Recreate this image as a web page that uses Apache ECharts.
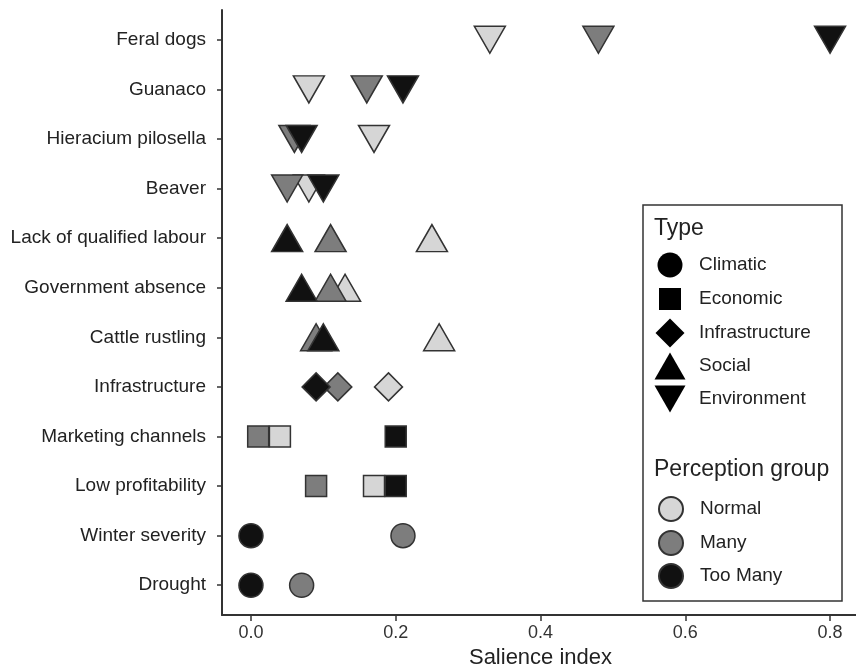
<!DOCTYPE html>
<html>
<head>
<meta charset="utf-8">
<script src="https://cdn.jsdelivr.net/npm/echarts@6/dist/echarts.min.js"></script>
<style>
html, body { margin: 0; padding: 0; background: #fff; }
#chart { width: 856px; height: 667px; }
</style>
</head>
<body>
<div id="chart"></div>
<script>
// categories from bottom to top
var categories = ['Drought', 'Winter severity', 'Low profitability', 'Marketing channels',
    'Infrastructure', 'Cattle rustling', 'Government absence', 'Lack of qualified labour',
    'Beaver', 'Hieracium pilosella', 'Guanaco', 'Feral dogs'];
var catTypes = ['Climatic', 'Climatic', 'Economic', 'Economic',
    'Infrastructure', 'Social', 'Social', 'Social',
    'Environment', 'Environment', 'Environment', 'Environment'];
var typeNames = ['Climatic', 'Economic', 'Infrastructure', 'Social', 'Environment'];
var groupNames = ['Normal', 'Many', 'Too Many'];

// salience index per perception group
var normalValues = [null, null, 0.17, 0.04, 0.19, 0.26, 0.13, 0.25, 0.08, 0.17, 0.08, 0.33];
var manyValues = [0.07, 0.21, 0.09, 0.01, 0.12, 0.09, 0.11, 0.11, 0.05, 0.06, 0.16, 0.48];
var tooManyValues = [0, 0, 0.20, 0.20, 0.09, 0.10, 0.07, 0.05, 0.10, 0.07, 0.21, 0.80];

var xTicks = [0, 0.2, 0.4, 0.6, 0.8];

var symbols = {
    Climatic: { symbol: 'circle', size: [24, 24] },
    Economic: { symbol: 'rect', size: [21, 21] },
    Infrastructure: { symbol: 'diamond', size: [28, 28] },
    Social: { symbol: 'triangle', size: [31, 27] },
    Environment: { symbol: 'path://M0,0L31,0L15.5,27Z', size: [31, 27] }
};
var groupColors = { 'Normal': '#d6d6d6', 'Many': '#7d7d7d', 'Too Many': '#111111' };
var font = '"Liberation Sans", Arial, sans-serif';

function buildData(values) {
    var out = [];
    values.forEach(function(v, i) {
        if (v === null) return;
        var s = symbols[catTypes[i]];
        out.push({ value: [v, i + 1], symbol: s.symbol, symbolSize: s.size });
    });
    return out;
}

var series = [];
[normalValues, manyValues, tooManyValues].forEach(function(vals, k) {
    series.push({
        name: groupNames[k],
        type: 'scatter',
        symbol: 'circle',
        itemStyle: { color: groupColors[groupNames[k]], borderColor: '#333', borderWidth: 1.5, opacity: 1 },
        emphasis: { disabled: true },
        data: buildData(vals)
    });
});
// legend-only series for the types
typeNames.forEach(function(t) {
    series.push({
        name: t,
        type: 'scatter',
        symbol: symbols[t].symbol,
        itemStyle: { color: '#000', opacity: 1 },
        data: []
    });
});

// one small legend per entry so each icon keeps its own size and place
var legendText = { fontSize: 19, color: '#222', fontFamily: font };
function legendItem(entry, w, h, cy) {
    return {
        data: [entry],
        orient: 'vertical',
        padding: 0,
        left: 670 - w / 2,
        top: cy - h / 2,
        itemWidth: w,
        itemHeight: h,
        selectedMode: false,
        textStyle: Object.assign({ padding: [0, 0, 0, 24 - w / 2] }, legendText)
    };
}
var typeLegendY = [265, 299, 333, 366, 399];
var typeLegendSize = { Climatic: [25, 25], Economic: [22, 22], Infrastructure: [29, 29], Social: [31, 27], Environment: [31, 27] };
var groupLegendY = [508, 542, 575];
var legends = typeNames.map(function(t, i) {
    return legendItem(t, typeLegendSize[t][0], typeLegendSize[t][1], typeLegendY[i]);
}).concat(groupNames.map(function(g, i) {
    return legendItem({ name: g, icon: 'circle' }, 24, 24, groupLegendY[i]);
}));

var myChart = echarts.init(document.getElementById('chart'));
var option = {
    backgroundColor: '#fff',
    animation: false,
    grid: { left: 222, top: 10, width: 637, bottom: 52, outerBoundsMode: 'none' },
    xAxis: {
        type: 'value',
        min: -0.04,
        max: 0.84,
        name: 'Salience index',
        nameLocation: 'middle',
        nameGap: 29,
        nameTextStyle: { fontSize: 22, color: '#222', fontFamily: font },
        axisLine: { show: true, onZero: false, lineStyle: { color: '#333', width: 2 } },
        axisTick: { show: true, length: 6, lineStyle: { color: '#333', width: 1.5 }, customValues: xTicks },
        axisLabel: {
            fontSize: 18, color: '#333', fontFamily: font, margin: 9,
            customValues: xTicks,
            formatter: function(v) { return v.toFixed(1); }
        },
        splitLine: { show: false }
    },
    yAxis: {
        type: 'value',
        min: 0.4,
        max: 12.6,
        axisLine: { show: true, onZero: false, lineStyle: { color: '#333', width: 2 } },
        axisTick: { show: true, length: 5, lineStyle: { color: '#333', width: 1.5 },
            customValues: categories.map(function(c, i) { return i + 1; }) },
        axisLabel: {
            fontSize: 19, color: '#222', fontFamily: font, margin: 16,
            customValues: categories.map(function(c, i) { return i + 1; }),
            formatter: function(v) { return categories[Math.round(v) - 1]; }
        },
        splitLine: { show: false }
    },
    legend: legends,
    graphic: [{
        type: 'rect',
        shape: { x: 643, y: 205, width: 199, height: 396 },
        style: { fill: '#fff', stroke: '#333', lineWidth: 1.5 },
        z: -1
    }, {
        type: 'text',
        left: 654,
        top: 217,
        style: { text: 'Type', fontSize: 23, fill: '#222', fontFamily: font }
    }, {
        type: 'text',
        left: 654,
        top: 458,
        style: { text: 'Perception group', fontSize: 23, fill: '#222', fontFamily: font }
    }],
    series: series
};
myChart.setOption(option);
</script>
</body>
</html>
